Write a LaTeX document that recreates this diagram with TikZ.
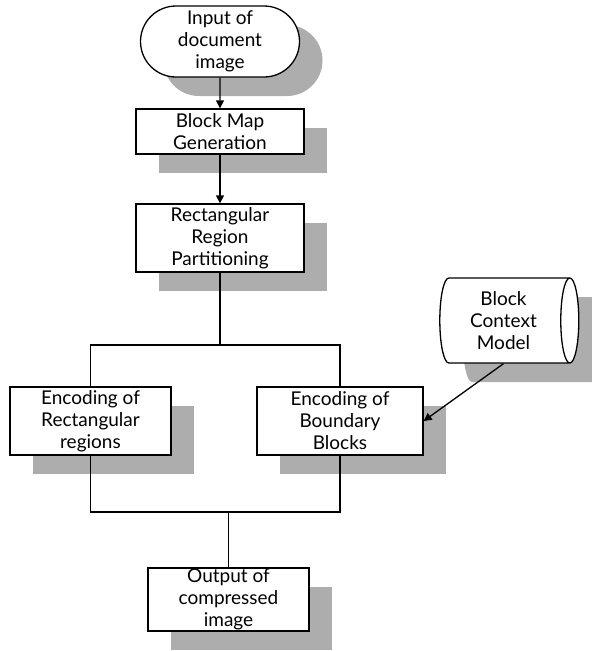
\documentclass[tikz,border=0pt]{standalone}
\usepackage{fontspec}
\setmainfont{Lato}
\usetikzlibrary{positioning, arrows.meta, shapes.misc, shapes.geometric, shadows}

\tikzset{
  shade box/.style={drop shadow={shadow xshift=23pt, shadow yshift=-19pt, fill=black!32, opacity=1}},
  proc/.style={rectangle, draw, line width=1.3pt, fill=white, align=center, inner sep=1pt, shade box},
  terminal/.style={rounded rectangle, draw, line width=1.3pt, fill=white, align=center, inner sep=1pt, shade box},
  store/.style={cylinder, draw, line width=1.3pt, fill=white, align=center, aspect=0.3, inner sep=1pt, shade box},
  flow/.style={line width=1.3pt, -{Triangle[width=8pt,length=8pt]}},
  link/.style={line width=1.3pt}
}

\begin{document}
\begin{tikzpicture}[x=1pt, y=1pt, node distance=90pt, on grid,
    font=\fontsize{19}{22}\selectfont]
  \useasboundingbox (0,0) rectangle (592,-651);
  \node[terminal, minimum width=161pt, minimum height=71pt] (input) at (220,-41.5) {Input of\\document\\image};
  \node[proc, minimum width=168pt, minimum height=45pt] (bmap) [below=of input] {Block Map\\Generation};
  \node[proc, minimum width=168pt, minimum height=68pt] (part) [below=106.5pt of bmap] {Rectangular\\Region\\Partitioning};
  \node[proc, minimum width=161pt, minimum height=68pt] (encrect) [below left=183pt and 129.5pt of part] {Encoding of\\Rectangular\\regions};
  \node[proc, minimum width=166pt, minimum height=68pt] (encbound) [right=249.5pt of encrect] {Encoding of\\Boundary\\Blocks};
  \node[store, minimum width=85pt, minimum height=139pt] (model) [above right=100.5pt and 163.5pt of encbound] {Block\\Context\\Model};
  \node[proc, minimum width=161pt, minimum height=63pt] (output) at (228.5,-599.5) {Output of\\compressed\\image};

  \coordinate (split) at (220,-345);
  \coordinate (merge) at (228.5,-512);

  \draw[flow] (input) -- (bmap);
  \draw[flow] (bmap) -- (part);
  \draw[link] (part) -- (split);
  \draw[link] (encrect.north) |- (split) -| (encbound.north);
  \draw[link] (encrect.south) |- (merge) -| (encbound.south);
  \draw[link] (merge) -- (output);
  \draw[flow] (model.south) -- (encbound.east);
\end{tikzpicture}
\end{document}
